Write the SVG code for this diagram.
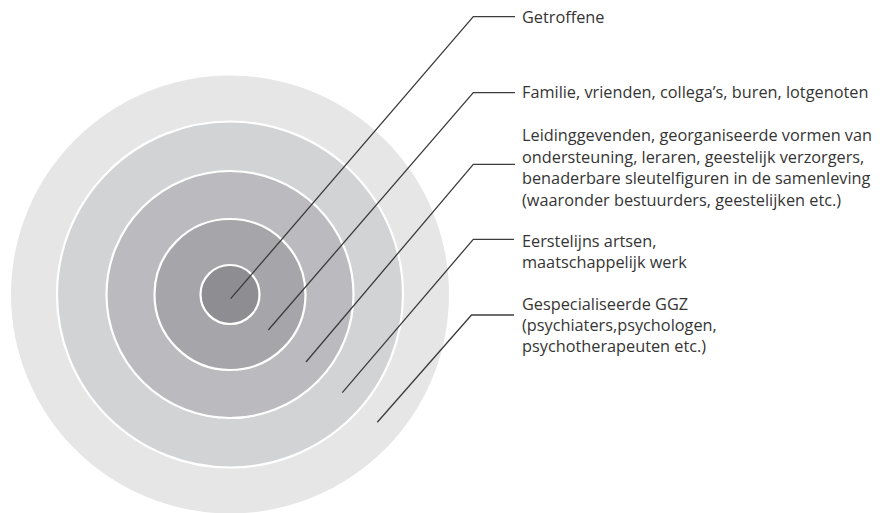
<svg xmlns="http://www.w3.org/2000/svg" width="880" height="513" viewBox="0 0 880 513">
<style>
.ring{stroke:#ffffff;stroke-width:2.2}
.lead{fill:none;stroke:#3c3c3c;stroke-width:1.3}
text{font-family:"Open Sans","Noto Sans","Liberation Sans",sans-serif;font-size:16.3px;fill:#353535}
</style>
<rect width="880" height="513" fill="#ffffff"/>
<g id="ring5">
<circle cx="230" cy="294.5" r="219" fill="#e6e6e6"/>
</g>
<g id="ring4">
<circle class="ring" cx="230" cy="294.5" r="173" fill="#d1d3d4"/>
</g>
<g id="ring3">
<circle class="ring" cx="230" cy="294.5" r="123.5" fill="#bbbbbf"/>
</g>
<g id="ring2">
<circle class="ring" cx="230" cy="294.5" r="75.5" fill="#a6a6aa"/>
</g>
<g id="ring1">
<circle class="ring" cx="230" cy="294.5" r="29.5" fill="#8e8e92"/>
</g>
<g id="connectors">
<polyline class="lead" points="230.7,298.7 473.3,16.7 515,16.7"/>
<polyline class="lead" points="268.3,330 473.3,92.7 515,92.7"/>
<polyline class="lead" points="306,362 473.3,164.3 515,164.3"/>
<polyline class="lead" points="342.3,392.7 473.3,239.3 514,239.3"/>
<polyline class="lead" points="377.3,422.3 471.5,315 514,315"/>
</g>
<g id="label1">
<text x="522" y="23">Getroffene</text>
</g>
<g id="label2">
<text x="522" y="98">Familie, vrienden, collega’s, buren, lotgenoten</text>
</g>
<g id="label3">
<text x="522" y="141">Leidinggevenden, georganiseerde vormen van</text>
<text x="522" y="162.5">ondersteuning, leraren, geestelijk verzorgers,</text>
<text x="522" y="184">benaderbare sleutelfiguren in de samenleving</text>
<text x="522" y="205.5">(waaronder bestuurders, geestelijken etc.)</text>
</g>
<g id="label4">
<text x="522" y="247">Eerstelijns artsen,</text>
<text x="522" y="268">maatschappelijk werk</text>
</g>
<g id="label5">
<text x="522" y="310">Gespecialiseerde GGZ</text>
<text x="522" y="331">(psychiaters,psychologen,</text>
<text x="522" y="352">psychotherapeuten etc.)</text>
</g>
</svg>
